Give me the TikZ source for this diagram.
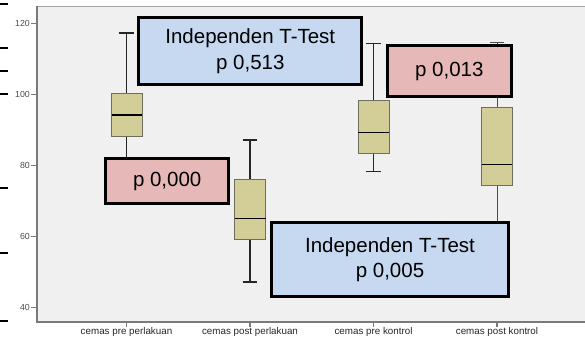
\documentclass[tikz,border=0pt]{standalone}
\usepackage{fontspec}
\setmainfont{Liberation Sans}
\definecolor{plotbg}{HTML}{F0F0F0}
\definecolor{khaki}{HTML}{D3CE98}
\definecolor{tblue}{HTML}{C6D9F1}
\definecolor{tpink}{HTML}{E6B9B8}
\definecolor{axisgrey}{HTML}{7A7A7A}
\definecolor{boxedge}{HTML}{6E6E5E}
\begin{document}
\begin{tikzpicture}[x=1pt,y=-1pt,
  axisline/.style={draw=axisgrey,line width=1.1pt},
  topline/.style={draw=black!35,line width=0.8pt},
  ytick/.style={draw=axisgrey,line width=0.9pt},
  ylab/.style={anchor=east,inner sep=0pt,text=black!70,font=\fontsize{8.8}{10}\selectfont},
  xlab/.style={anchor=center,inner sep=0pt,text=black!85,font=\fontsize{9.8}{11}\selectfont},
  whisk/.style={draw=black!85,line width=1.3pt},
  thinwhisk/.style={draw=black!70,line width=0.9pt},
  qbox/.style={fill=khaki,draw=boxedge,line width=0.9pt},
  medline/.style={draw=black,line width=1.5pt},
  tbox/.style={draw=black,line width=3pt,align=center,inner sep=0pt,
    font=\fontsize{20.5}{25.6}\selectfont},
  dashmark/.style={draw=black,line width=2.6pt}]
\useasboundingbox (0,0) rectangle (585,338);
\fill[white] (0,0) rectangle (585,338);
% stray marks at the left edge
\foreach \yy in {4,48,71,94,188,253,321}{
  \draw[dashmark] (0,\yy) -- (8,\yy);
}
% plot area
\fill[plotbg] (37,6) rectangle (585,322);
\draw[topline] (37,6) -- (585,6);
\draw[axisline] (37,6) -- (37,322) -- (585,322);
% y axis
\foreach \v/\yy in {120/23,100/94,80/165,60/236,40/307}{
  \draw[ytick] (31,\yy) -- (37,\yy);
  \node[ylab] (yl\v) at (30,\yy) {\v};
}
% x axis ticks and labels
\foreach \c/\lab/\nm in {126.5/cemas pre perlakuan/xa,250/cemas post perlakuan/xb,373.5/cemas pre kontrol/xc,497/cemas post kontrol/xd}{
  \draw[axisline] (\c,322) -- (\c,326.5);
  \node[xlab] (\nm) at (\c,331.5) {\lab};
}
% box 1: cemas pre perlakuan
\draw[whisk] (126.5,33) -- (126.5,93.5);
\draw[whisk] (119,33) -- (134,33);
\draw[whisk] (126.5,136) -- (126.5,170);
\filldraw[qbox] (111.7,93.5) rectangle (142,136);
\draw[medline] (111.7,115) -- (142,115);
% box 2: cemas post perlakuan
\draw[whisk] (250,140) -- (250,179);
\draw[whisk] (242.7,140) -- (257.3,140);
\draw[whisk] (250,239) -- (250,282);
\draw[whisk] (242.7,282) -- (257.3,282);
\filldraw[qbox] (234.5,179) rectangle (265.5,239);
\draw[medline] (234.5,218.3) -- (265.5,218.3);
% box 3: cemas pre kontrol
\draw[whisk] (373.5,43.3) -- (373.5,100);
\draw[whisk] (366,43.3) -- (381,43.3);
\draw[whisk] (373.5,153.7) -- (373.5,171.7);
\draw[whisk] (366,171.7) -- (381,171.7);
\filldraw[qbox] (358,100) rectangle (389,153.7);
\draw[medline] (358,132.3) -- (389,132.3);
% box 4: cemas post kontrol
\draw[thinwhisk] (497,42.7) -- (497,107.3);
\draw[thinwhisk] (490,42.7) -- (504,42.7);
\draw[thinwhisk] (497,185.7) -- (497,230);
\filldraw[qbox] (481.7,107.3) rectangle (512.3,185.7);
\draw[medline] (481.7,164.7) -- (512.3,164.7);
% annotation boxes
\node[tbox,fill=tblue,minimum width=223pt,minimum height=67.3pt] (ttA) at (250.3,50.9) {Independen T-Test\\p 0,513};
\node[tbox,fill=tblue,minimum width=237pt,minimum height=74.6pt] (ttB) at (390,259.5) {Independen T-Test\\p 0,005};
\node[tbox,fill=tpink,minimum width=122.7pt,minimum height=45pt] (pA) at (167.2,181) {p 0,000};
\node[tbox,fill=tpink,minimum width=124pt,minimum height=51.3pt] (pB) at (449.3,71.2) {p 0,013};
\end{tikzpicture}
\end{document}
